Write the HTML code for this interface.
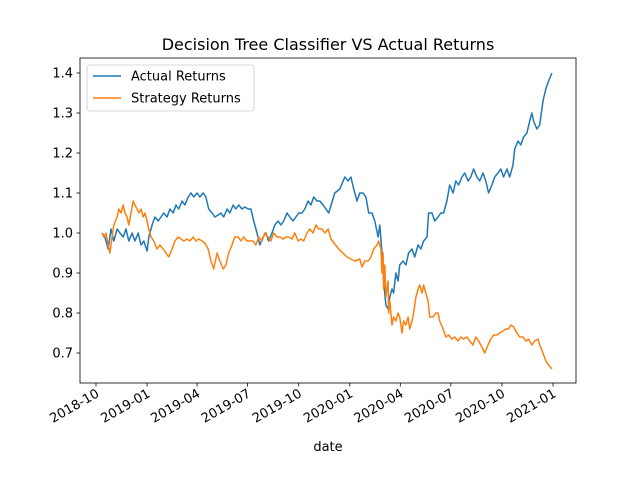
<!DOCTYPE html>
<html><head><meta charset="utf-8"><style>
body{margin:0;background:#fff}
svg{font-family:"DejaVu Sans","Liberation Sans",sans-serif}
</style></head><body>
<svg width="640" height="480" viewBox="0 0 640 480">
<g id="plot"></g>
</svg>
<script>
const tickDays=[0,92,182,273,365,457,548,639,731,823];
const tickLabels=["2018-10","2019-01","2019-04","2019-07","2019-10","2020-01","2020-04","2020-07","2020-10","2021-01"];
const yTicks=[0.7,0.8,0.9,1.0,1.1,1.2,1.3,1.4];
const actualDays=[11,16,22,27,32,38,43,49,54,59,65,70,76,81,86,92,95,101,106,112,117,122,128,133,139,144,149,155,160,166,171,176,182,187,193,198,203,209,214,220,225,230,236,241,247,252,257,263,268,274,279,284,290,295,301,306,311,317,322,328,333,338,344,349,355,360,365,371,376,382,387,392,398,403,409,414,419,430,439,448,454,459,464,470,475,481,486,491,497,502,508,511,515,518,522,526,529,533,536,540,544,547,553,558,563,569,574,580,585,590,596,599,605,610,616,621,626,632,637,643,648,653,659,664,670,675,680,686,691,697,702,707,713,718,724,729,734,740,745,751,754,760,765,770,776,781,785,788,794,799,805,810,815,821];
const actualVals=[1.00,0.99,0.96,1.01,0.98,1.01,1.00,0.99,1.01,0.98,1.00,0.98,1.00,0.97,0.98,0.955,0.99,1.02,1.04,1.03,1.04,1.05,1.04,1.06,1.05,1.07,1.06,1.08,1.07,1.09,1.10,1.09,1.10,1.09,1.10,1.09,1.06,1.05,1.04,1.045,1.05,1.04,1.06,1.05,1.07,1.06,1.07,1.06,1.065,1.06,1.06,1.03,1.00,0.97,0.99,1.00,0.98,1.00,1.02,1.03,1.02,1.03,1.05,1.04,1.03,1.04,1.05,1.05,1.06,1.08,1.07,1.09,1.08,1.08,1.07,1.06,1.05,1.10,1.11,1.14,1.13,1.14,1.11,1.08,1.10,1.10,1.09,1.05,1.05,1.03,0.99,1.02,0.95,0.88,0.82,0.81,0.84,0.86,0.85,0.90,0.88,0.92,0.93,0.92,0.95,0.96,0.94,0.97,0.96,0.98,0.99,1.05,1.05,1.03,1.04,1.05,1.05,1.08,1.12,1.10,1.13,1.12,1.14,1.15,1.13,1.14,1.16,1.14,1.13,1.15,1.13,1.10,1.12,1.14,1.15,1.16,1.14,1.16,1.14,1.17,1.21,1.23,1.22,1.24,1.25,1.28,1.30,1.28,1.26,1.27,1.33,1.36,1.38,1.40];
const stratDays=[11,14,18,22,25,29,32,38,41,45,49,52,56,59,63,67,70,74,77,81,85,88,92,95,99,104,110,115,121,126,131,137,142,148,153,158,164,169,175,180,185,191,196,202,207,212,218,223,229,234,239,245,250,256,261,266,272,277,283,288,293,299,304,310,315,320,326,331,337,342,347,353,358,364,369,374,380,385,391,396,401,407,412,418,423,437,452,466,475,479,484,490,495,500,506,509,513,515,517,518,520,522,526,527,529,533,536,540,544,547,551,554,558,562,565,569,572,576,580,583,587,590,594,598,601,607,612,616,619,625,630,635,641,646,652,657,662,668,673,679,684,689,695,700,706,711,716,722,727,733,738,743,747,752,758,763,769,774,779,785,790,796,799,805,810,815,821];
const stratVals=[1.00,0.99,1.00,0.97,0.95,0.99,1.02,1.04,1.06,1.05,1.07,1.05,1.04,1.02,1.05,1.08,1.07,1.06,1.05,1.06,1.04,1.05,1.03,1.01,0.99,0.98,0.96,0.97,0.96,0.95,0.94,0.96,0.98,0.99,0.985,0.98,0.985,0.98,0.99,0.98,0.985,0.98,0.975,0.96,0.93,0.91,0.95,0.93,0.91,0.92,0.95,0.97,0.99,0.99,0.98,0.99,0.98,0.98,0.98,0.97,0.99,0.98,1.00,0.99,0.98,1.00,0.99,0.99,0.985,0.99,0.99,0.985,1.00,0.98,0.985,0.98,1.00,1.01,1.00,1.02,1.01,1.01,1.00,1.01,0.985,0.96,0.94,0.93,0.935,0.915,0.93,0.93,0.94,0.96,0.97,0.98,0.96,0.90,0.95,0.86,0.92,0.84,0.88,0.80,0.83,0.77,0.79,0.78,0.80,0.79,0.75,0.78,0.77,0.79,0.76,0.78,0.80,0.84,0.86,0.87,0.85,0.87,0.85,0.83,0.79,0.79,0.80,0.80,0.78,0.76,0.74,0.745,0.735,0.74,0.73,0.74,0.735,0.74,0.73,0.72,0.74,0.73,0.715,0.70,0.72,0.735,0.745,0.745,0.75,0.755,0.76,0.76,0.77,0.765,0.75,0.74,0.74,0.73,0.735,0.72,0.73,0.735,0.72,0.70,0.68,0.67,0.66];

const L=80,R=576,T=58,B=383;
const xs=d=>96+d*0.5553;
const ys=v=>73+(1.4-v)*400;
const NS="http://www.w3.org/2000/svg";
const g=document.getElementById('plot');
function mk(tag,attrs,parent){const e=document.createElementNS(NS,tag);for(const k in attrs)e.setAttribute(k,attrs[k]);(parent||g).appendChild(e);return e;}

function line(days,vals,color,name){
  const p=mk('polyline',{points:days.map((d,i)=>xs(d).toFixed(1)+','+ys(vals[i]).toFixed(1)).join(' '),fill:'none',stroke:color,'stroke-width':1.5,'stroke-linejoin':'round'});
  
  
}
line(actualDays,actualVals,'#1f77b4','actual-returns-line');
line(stratDays,stratVals,'#ff7f0e','strategy-returns-line');

const frame=mk('rect',{x:L,y:T,width:R-L,height:B-T,fill:'none',stroke:'#000','stroke-width':0.8});



yTicks.forEach(v=>{
  const y=ys(v);
  const t=mk('line',{x1:L-3.5,x2:L,y1:y,y2:y,stroke:'#000','stroke-width':0.8});
  
  
  const tx=mk('text',{x:L-7,y:y+4.5,'text-anchor':'end','font-size':13});
  tx.textContent=v.toFixed(1);
  
  
});
tickDays.forEach((d,i)=>{
  const x=xs(d);
  const t=mk('line',{x1:x,x2:x,y1:B,y2:B+3.5,stroke:'#000','stroke-width':0.8});
  
  
  const tx=mk('text',{x:x+4,y:B+13,'text-anchor':'end','font-size':13,transform:`rotate(-30 ${x+4} ${B+13})`});
  tx.textContent=tickLabels[i];
  
  
});
const xl=mk('text',{x:328,y:451,'text-anchor':'middle','font-size':13});
xl.textContent='date';


const ti=mk('text',{x:328,y:50,'text-anchor':'middle','font-size':16});
ti.textContent='Decision Tree Classifier VS Actual Returns';



const lg=mk('g',{});


mk('rect',{x:87,y:65,width:167,height:46,rx:3,fill:'#fff','fill-opacity':0.8,stroke:'#ccc','stroke-width':0.8},lg);
[['Actual Returns','#1f77b4',76],['Strategy Returns','#ff7f0e',98]].forEach(([lab,c,y])=>{
  const e=mk('g',{},lg);
  
  
  mk('line',{x1:93,x2:121,y1:y,y2:y,stroke:c,'stroke-width':1.5},e);
  const t=mk('text',{x:131,y:y+4.5,'font-size':13},e);
  t.textContent=lab;
});
</script>
</body></html>
